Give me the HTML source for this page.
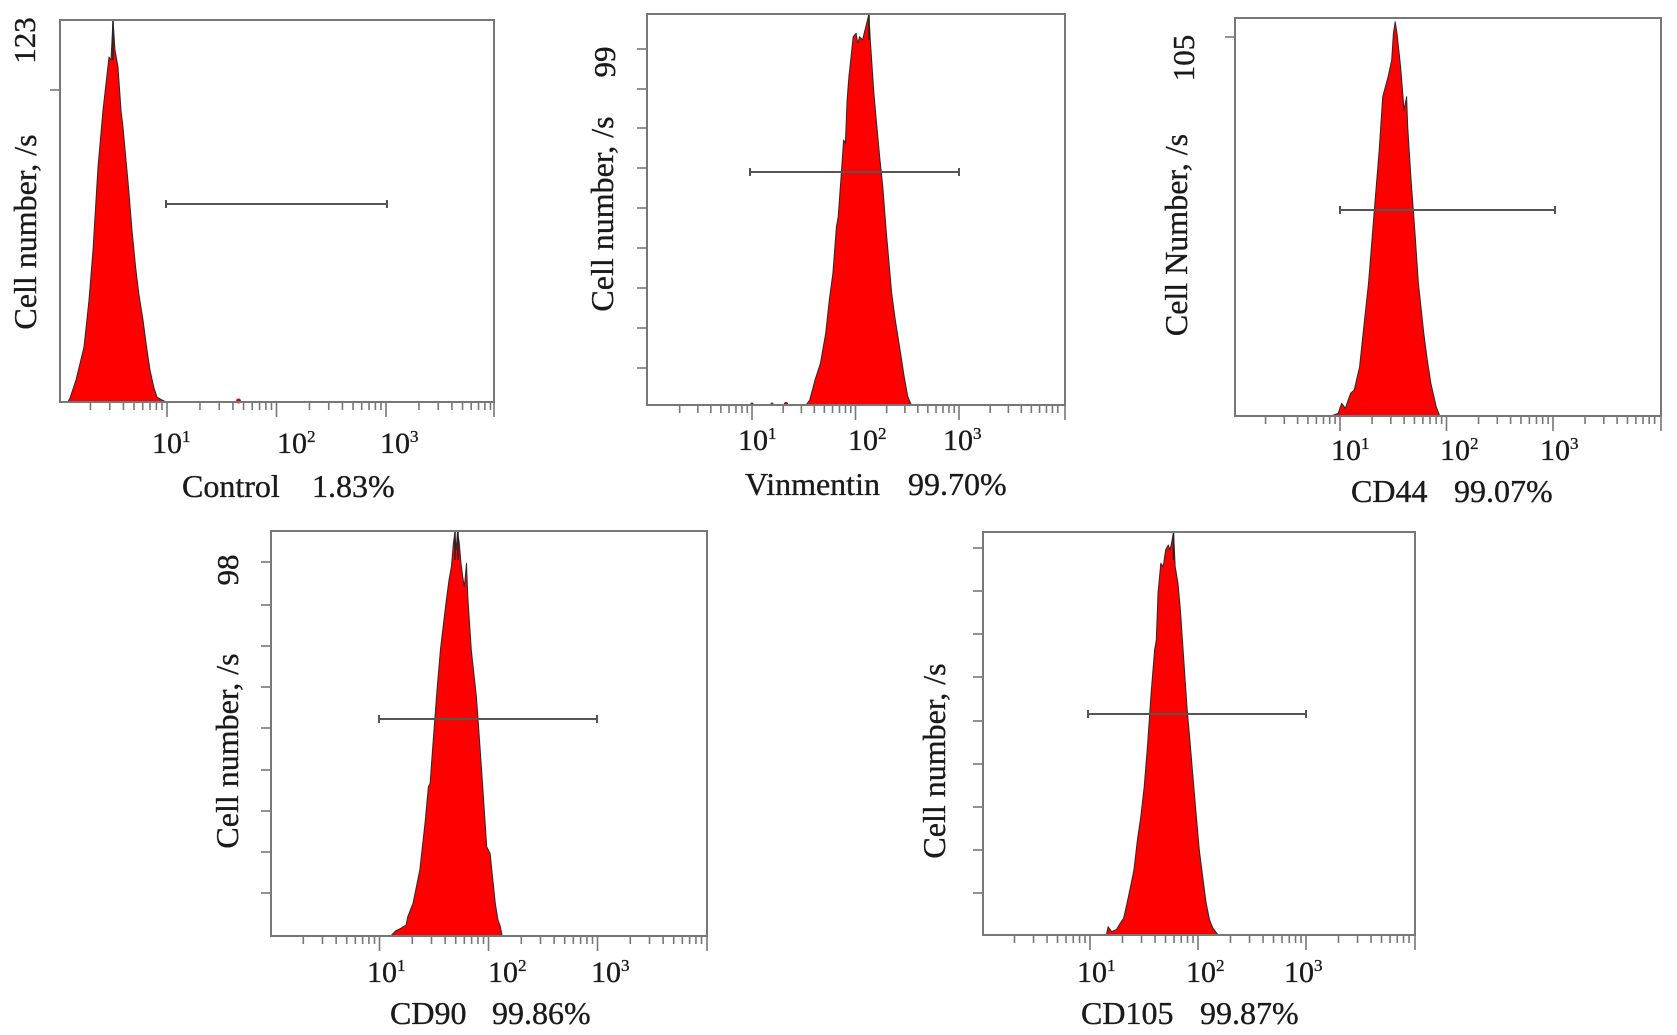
<!DOCTYPE html>
<html>
<head>
<meta charset="utf-8">
<style>
  html,body{margin:0;padding:0;background:#fff;}
  svg{display:block;}
  text{font-family:"Liberation Serif","DejaVu Serif",serif;fill:#1a1a1a;stroke:#1a1a1a;stroke-width:0.35px;}
  .lab{font-size:32px;}
  .tl{font-size:30px;}
  .num{font-size:31px;}
  .box{fill:none;stroke:#777;stroke-width:2;}
  .hist{fill:#ff0000;stroke:#2a2a2a;stroke-width:1;stroke-linejoin:round;}
  .gate{stroke:#555;stroke-width:2;fill:none;}
  .tk{stroke:#777;stroke-width:1.6;}
</style>
</head>
<body>
<svg id="s" width="1677" height="1035" viewBox="0 0 1677 1035" xmlns="http://www.w3.org/2000/svg">
<rect x="0" y="0" width="1677" height="1035" fill="#fff"/>
<g id="ticks"></g>

<!-- Panel 1 Control -->
<polygon class="hist" points="68,402 70,398 76,380 84,347 89,300 93,250 98,167 103,110 109,57 111,60 113,20 115,50 118,67 121,110 123,127 126,160 128.5,187 132,230 135.6,267 139,295 143,320 147,350 150,370 154,388 157,397 162,400 166,402"/>
<line x1="113" y1="20" x2="113" y2="60" stroke="#222" stroke-width="1.5"/>
<circle cx="238.5" cy="401" r="2.5" fill="#d00"/>
<rect class="box" x="60" y="20" width="434" height="382"/>
<path class="gate" d="M166,204 H387 M166,200 V208 M387,200 V208"/>
<text class="lab" transform="translate(36,232) rotate(-90)" text-anchor="middle">Cell number, /s</text>
<text class="num" transform="translate(35,40.5) rotate(-90)" text-anchor="middle">123</text>
<text class="tl" x="152" y="453">10<tspan font-size="17" dy="-11">1</tspan></text>
<text class="tl" x="277" y="453">10<tspan font-size="17" dy="-11">2</tspan></text>
<text class="tl" x="380" y="453">10<tspan font-size="17" dy="-11">3</tspan></text>
<text class="lab" x="182" y="497">Control</text>
<text class="lab" x="312" y="497">1.83%</text>

<!-- Panel 2 Vinmentin -->
<polygon class="hist" points="806.1,405 809.7,400 815,380 820.4,363.3 825.7,333.3 829.3,300 832.9,273.3 836.4,226.7 838.2,216.7 841.8,166.7 843.6,140 845.4,143.3 847.1,100 848.9,76.7 850.7,60 853.2,36.7 856.1,33.3 857.8,43.3 859.6,36.7 862.5,40 865,30 867.5,20 868.9,14 870.3,40 872.1,66.7 873.9,93.3 875.7,113.3 877.5,133.3 880,160 882.8,186.7 886.4,233.3 888.2,253.3 891.7,293.3 895.3,320 900.6,353.3 904.2,376.7 907.8,396.7 911.3,405"/>
<line x1="869" y1="14" x2="869" y2="40" stroke="#222" stroke-width="1.5"/>
<circle cx="752" cy="404" r="1.5" fill="#333"/>
<circle cx="772" cy="404" r="1.5" fill="#333"/>
<circle cx="786" cy="404" r="2" fill="#a00"/>
<rect class="box" x="647" y="14" width="418" height="391"/>
<path class="gate" d="M750,172 H959 M750,168 V176 M959,168 V176"/>
<text class="lab" transform="translate(613,214) rotate(-90)" text-anchor="middle">Cell number, /s</text>
<text class="num" transform="translate(615,62) rotate(-90)" text-anchor="middle">99</text>
<text class="tl" x="738" y="450">10<tspan font-size="17" dy="-11">1</tspan></text>
<text class="tl" x="848" y="450">10<tspan font-size="17" dy="-11">2</tspan></text>
<text class="tl" x="943" y="450">10<tspan font-size="17" dy="-11">3</tspan></text>
<text class="lab" x="745" y="495">Vinmentin</text>
<text class="lab" x="908" y="495">99.70%</text>

<!-- Panel 3 CD44 -->
<polygon class="hist" points="1331,416 1338.2,413.3 1341.7,403.3 1345.3,408.3 1350.6,393.3 1354.2,390 1359.6,366.7 1363.1,333.3 1368.5,283.3 1373.8,216.7 1379.2,150 1382.7,96.7 1388.1,76.7 1391.7,60 1393.4,33.3 1395.2,21.7 1397,33.3 1400.6,66.7 1404.1,110 1406.6,96.7 1407.7,126.7 1411.3,183.3 1414.8,230 1418.4,283.3 1423.8,333.3 1427.3,360 1430.9,383.3 1436.2,406.7 1439.8,416"/>
<rect class="box" x="1235" y="18" width="426" height="398"/>
<path class="gate" d="M1340,210 H1555 M1340,206 V214 M1555,206 V214"/>
<text class="lab" transform="translate(1187,235) rotate(-90)" text-anchor="middle">Cell Number, /s</text>
<text class="num" transform="translate(1194,58) rotate(-90)" text-anchor="middle">105</text>
<text class="tl" x="1331" y="460">10<tspan font-size="17" dy="-11">1</tspan></text>
<text class="tl" x="1440" y="460">10<tspan font-size="17" dy="-11">2</tspan></text>
<text class="tl" x="1540" y="460">10<tspan font-size="17" dy="-11">3</tspan></text>
<text class="lab" x="1351" y="502">CD44</text>
<text class="lab" x="1454" y="502">99.07%</text>

<!-- Panel 4 CD90 -->
<polygon class="hist" points="390.7,936 395.8,930.7 400.9,928.3 406.1,925 407.8,916.7 413,903.3 416.4,886.7 419.8,870 425,823.3 428.4,786.7 430.1,783.3 433.5,736.7 437,690 440.4,650 445.5,606.7 449,580 451.4,566.7 453.4,543.3 454.8,533.3 456.2,550 457.5,531 459.3,543.3 461,563.3 462.7,576.7 464.4,586.7 466.5,563.3 467.8,596.7 471.3,650 476.4,696.7 478.8,730 481.6,770 484.3,810 486.7,846.7 490.1,853.3 492.5,876.7 495.3,903.3 498,920 500.4,926.7 502.1,936"/>
<line x1="455" y1="531" x2="455" y2="560" stroke="#222" stroke-width="1.5"/>
<line x1="458" y1="531" x2="458" y2="560" stroke="#222" stroke-width="1.5"/>
<rect class="box" x="271" y="531" width="436" height="405"/>
<path class="gate" d="M379,719 H597 M379,715 V723 M597,715 V723"/>
<text class="lab" transform="translate(238,751) rotate(-90)" text-anchor="middle">Cell number, /s</text>
<text class="num" transform="translate(238,570) rotate(-90)" text-anchor="middle">98</text>
<text class="tl" x="367" y="982">10<tspan font-size="17" dy="-11">1</tspan></text>
<text class="tl" x="488" y="982">10<tspan font-size="17" dy="-11">2</tspan></text>
<text class="tl" x="591" y="982">10<tspan font-size="17" dy="-11">3</tspan></text>
<text class="lab" x="390" y="1024">CD90</text>
<text class="lab" x="492" y="1024">99.86%</text>

<!-- Panel 5 CD105 -->
<polygon class="hist" points="1106.4,935 1108.1,926.7 1111.6,931.7 1116.7,929.3 1120.2,923.3 1123.6,918.3 1127,903.3 1130.5,886.7 1133.9,870 1137.4,840 1140.8,816.7 1144.2,786.7 1147.7,743.3 1151.1,693.3 1154.6,650 1156.3,640 1158,593.3 1160.8,563.3 1163.2,566.7 1165.6,550 1168.3,545 1170,550 1171.8,541.7 1173.5,531.7 1175.2,566.7 1178,583.3 1180.4,610 1183.8,660 1187.2,710 1189.6,736.7 1192.4,770 1195.8,810 1199.3,850 1202.7,876.7 1206.2,903.3 1209.6,920 1213,928.3 1218.2,935"/>
<line x1="1173.5" y1="532" x2="1173.5" y2="560" stroke="#222" stroke-width="1.5"/>
<rect class="box" x="983" y="532" width="432" height="403"/>
<path class="gate" d="M1088,714 H1306 M1088,710 V718 M1306,710 V718"/>
<text class="lab" transform="translate(945,761) rotate(-90)" text-anchor="middle">Cell number, /s</text>
<text class="tl" x="1077" y="982">10<tspan font-size="17" dy="-11">1</tspan></text>
<text class="tl" x="1186" y="982">10<tspan font-size="17" dy="-11">2</tspan></text>
<text class="tl" x="1284" y="982">10<tspan font-size="17" dy="-11">3</tspan></text>
<text class="lab" x="1081" y="1024">CD105</text>
<text class="lab" x="1200" y="1024">99.87%</text>
</svg>
<script>
(function(){
  var g=document.getElementById('ticks');
  var NS='http://www.w3.org/2000/svg';
  function ln(x1,y1,x2,y2){
    var l=document.createElementNS(NS,'line');
    l.setAttribute('x1',x1);l.setAttribute('y1',y1);
    l.setAttribute('x2',x2);l.setAttribute('y2',y2);
    l.setAttribute('class','tk');g.appendChild(l);
  }
  var panels=[
    {x0:57.5,dw:109.5,ay:402,bl:60,br:494,yt:[90]},
    {x0:648.5,dw:103.5,ay:405,bl:647,br:1065,yt:[49,89,128,168,208,248,288,328,368]},
    {x0:1233.5,dw:106.5,ay:416,bl:1235,br:1661,yt:[37]},
    {x0:270.5,dw:109,ay:936,bl:271,br:707,yt:[562,605,646,687,728,770,811,852,893]},
    {x0:982,dw:108,ay:935,bl:983,br:1415,yt:[548,591,634,677,721,764,807,850,893]}
  ];
  panels.forEach(function(p){
    for(var d=0;d<4;d++){
      for(var k=1;k<=9;k++){
        var x=p.x0+(d+Math.log10(k))*p.dw;
        if(x<p.bl+3) continue;
        ln(x,p.ay,x,p.ay+(k==1?15:8));
      }
    }
    ln(p.br,p.ay,p.br,p.ay+15);
    p.yt.forEach(function(y){ln(p.bl-10,y,p.bl,y);});
  });
})();
</script>
</body>
</html>
